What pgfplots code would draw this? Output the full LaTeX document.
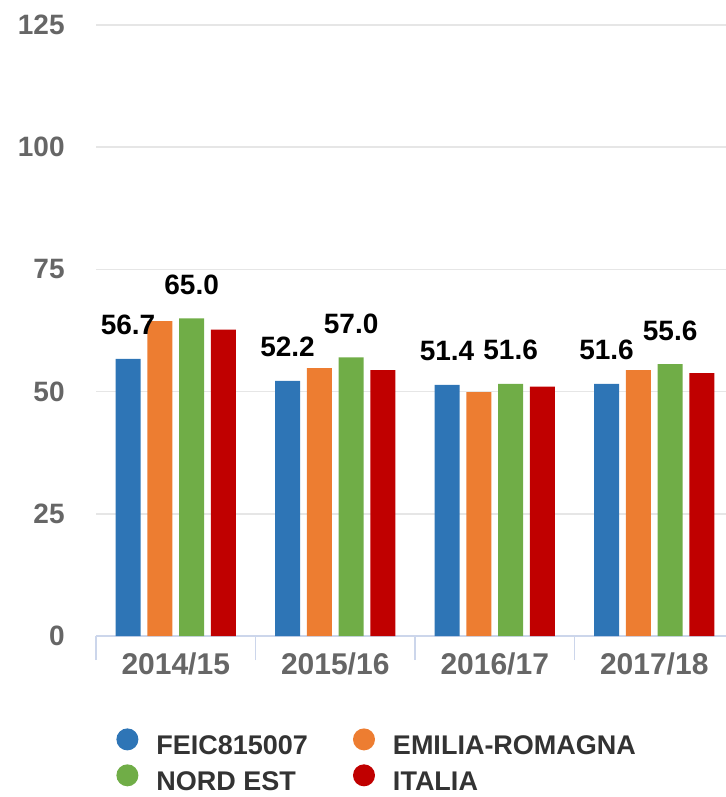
\documentclass[border=0pt]{standalone}
\usepackage{fontspec}
\setmainfont{Liberation Sans}
\usepackage{pgfplots}
\usepackage{pgfplotstable}
\pgfplotsset{compat=1.18}

\definecolor{cBlue}{HTML}{2E75B6}
\definecolor{cOrange}{HTML}{ED7D31}
\definecolor{cGreen}{HTML}{70AD47}
\definecolor{cRed}{HTML}{C00000}
\definecolor{cAxis}{HTML}{CCD6EB}
\definecolor{cGrid}{HTML}{E6E6E6}
\definecolor{cTick}{HTML}{666666}
\definecolor{cText}{HTML}{333333}

% round legend markers instead of the bar swatch
\pgfplotsset{ybar legend/.style={legend image code/.code={\fill[##1] (5.5pt,0.35em) circle (5.5pt);}}}

\pgfplotstableread{
x blue orange green red
0 56.7 64.4 65.0 62.7
1 52.2 54.8 57.0 54.4
2 51.4 49.9 51.6 51.0
3 51.6 54.4 55.6 53.8
}\datatable

\begin{document}
\begin{tikzpicture}
\begin{axis}[
    name=ax,
    scale only axis,
    width=315pt, height=305.5pt,
    xmin=-0.5, xmax=3.45,
    ymin=0, ymax=125,
    ybar=3.4pt, bar width=12.5pt,
    axis lines*=left,
    x axis line style={draw=cAxis, line width=0.75pt},
    y axis line style={draw=none},
    xtick={0,1,2,3},
    xticklabels={2014/15,2015/16,2016/17,2017/18},
    minor xtick={-0.5,0.5,1.5,2.5},
    ytick={0,25,50,75,100,125},
    major tick length=0pt, minor tick length=12pt,
    tick align=outside,
    every minor tick/.append style={cAxis, line width=0.75pt},
    ymajorgrids,
    grid style={cGrid, line width=0.75pt},
    /pgf/number format/assume math mode=true,
    xticklabel style={font=\fontsize{15}{17}\selectfont\bfseries, text=cTick,
        anchor=north, inner sep=0pt, yshift=-8pt},
    yticklabel style={font=\fontsize{14}{16}\selectfont\bfseries, text=cTick,
        anchor=east, inner sep=0pt, xshift=-15.5pt},
    legend columns=2,
    legend cell align=left,
    legend style={
        at={(0,0)}, anchor=north west,
        xshift=10pt, yshift=-46pt,
        draw=none, fill=none, inner sep=0pt,
        font=\fontsize{13.5}{16}\selectfont\bfseries, text=cText,
        row sep=1.5pt,
        /tikz/every odd column/.append style={column sep=7pt},
        /tikz/every even column/.append style={column sep=20.5pt},
    },
    nodes near coords={\pgfmathprintnumber[fixed,fixed zerofill,precision=1,assume math mode=true]{\pgfplotspointmeta}},
    every node near coord/.append style={font=\fontsize{14}{16}\selectfont\bfseries,
        text=black, anchor=base, inner sep=0pt, yshift=12pt},
]
    \addplot[fill=cBlue, draw=none] table[x=x, y=blue] {\datatable};
    \addlegendentry{FEIC815007}
    \addplot[fill=cOrange, draw=none, nodes near coords=] table[x=x, y=orange] {\datatable};
    \addlegendentry{EMILIA-ROMAGNA}
    \addplot[fill=cGreen, draw=none] table[x=x, y=green] {\datatable};
    \addlegendentry{NORD EST}
    \addplot[fill=cRed, draw=none, nodes near coords=] table[x=x, y=red] {\datatable};
    \addlegendentry{ITALIA}
\end{axis}
\pgfresetboundingbox
\path[use as bounding box] (ax.south west) ++(-48pt,-80.5pt) rectangle ++(363pt,398.5pt);
\end{tikzpicture}
\end{document}
